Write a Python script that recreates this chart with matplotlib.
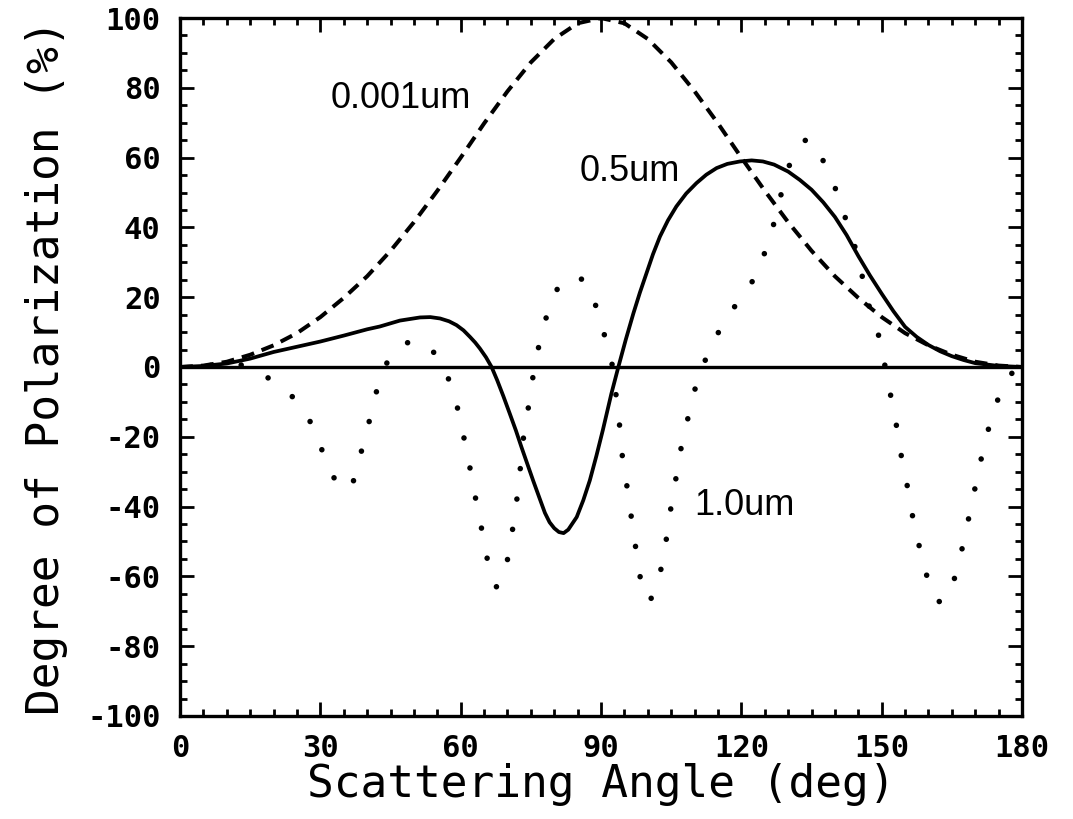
import matplotlib
matplotlib.use("Agg")
import matplotlib.pyplot as plt
from matplotlib.ticker import MultipleLocator

plt.rcParams['axes.unicode_minus'] = False

# 0.001um curve (dashed)
ang_small = [0, 5, 10, 15, 20, 25, 30, 35, 40, 45, 50, 55, 60, 65, 70, 75, 80, 85, 90,
             95, 100, 105, 110, 115, 120, 125, 130, 135, 140, 145, 150, 155, 160, 165, 170, 175, 180]
pol_small = [0, 0.4, 1.5, 3.5, 6.2, 9.7, 14.3, 19.8, 26, 33.3, 41.5, 50.5, 60, 69.8, 79, 87.3, 94, 98.5, 100,
             98.5, 94, 87.3, 79, 69.8, 60, 50.5, 41.5, 33.3, 26, 19.8, 14.3, 9.7, 6.2, 3.5, 1.5, 0.4, 0]

# 0.5um curve (solid)
ang_mid = [0, 5, 10, 15, 20, 25, 30, 35, 40, 42.7, 47, 51.3, 53.5, 55.6, 57.5, 59.1, 60.6, 62, 63.1,
           64.1, 65.4, 66.6, 67.8, 69.1, 70.5, 71.8, 73, 74.3, 75.5, 76.8, 78, 79, 80, 81, 82, 83,
           84.8, 86.2, 87.6, 89, 90.4, 92.2, 93.7, 95.3, 96.9, 98.3, 99.7, 101.1, 102.6, 104.3, 106.1,
           108.2, 110.4, 112.5, 114.7, 117, 119.7, 122.2, 124.6, 127, 130, 132.5, 135, 137.5,
           140, 142.5, 145, 147.5, 150, 152.5, 155, 157.5, 160, 162.5, 165, 167.5, 170, 175, 180]
pol_mid = [0, 0.3, 1.0, 2.4, 4.3, 5.8, 7.3, 9.0, 10.8, 11.6, 13.3, 14.2, 14.3, 13.9, 13.1, 12, 10.5, 8.6, 7.0,
           5.3, 2.8, 0, -3.8, -8.3, -13.4, -18.2, -23, -28, -32.6, -37.4, -41.8, -44.5, -46.2, -47.3, -47.6, -46.6,
           -43, -38.2, -32.5, -25.5, -18, -7.7, 0, 7.9, 15.3, 21.3, 26.8, 32.3, 37.4, 42, 46,
           49.7, 52.7, 55.1, 57, 58.2, 58.9, 59.2, 58.9, 58, 56, 53.6, 50.8, 47.2,
           43, 37.8, 31.8, 26.2, 21, 16, 11.5, 8.6, 6.3, 4.5, 3.1, 2.0, 1.1, 0.3, 0]

# 1.0um curve (dotted)
ang_big = [0, 5, 10, 14, 17, 20, 24, 28, 31, 33, 35, 37, 38.2, 40, 42, 43.5, 45, 47, 50, 52.6,
           55, 57, 58.8, 60.2, 61.6, 62.7, 64, 65.2, 66.4, 67.6, 68.7, 70.3, 71.2, 72.1, 72.8,
           73.5, 74.6, 75.6, 76.8, 78.5, 81, 83.5, 86.3, 89, 90.8, 92.5, 93.2, 94, 94.6, 95.6,
           96.5, 97.4, 98.4, 99.4, 100.4, 101.5, 102.6, 103.8, 104.7, 105.8, 106.8, 108.3, 109.7,
           111.8, 114.5, 118, 121.8, 124.5, 126.6, 128.2, 129.8, 132.6, 134.5, 137, 139.7, 141.9,
           144, 145.6, 147, 149.1, 150.5, 151.7, 153, 154, 155.3, 156.4, 157.8, 159.3, 161.3,
           162.8, 164.7, 166.5, 167.9, 169.2, 170.6, 171.9, 173.7, 175.9, 178, 180]
pol_big = [0, 0.3, 0.8, 0.5, -1, -4.5, -8.5, -16, -26, -32, -35.5, -33, -27, -18, -7, -1, 3.5, 6.3, 7.5, 6.7,
           3, -2, -8.6, -17.2, -26, -34.5, -43, -51.7, -60, -63, -62, -53.6, -45.5, -37, -28.3,
           -19.2, -10.5, -1.4, 6.7, 15.3, 23.5, 26, 25, 17.2, 8.8, 0, -8, -17.2, -26.3, -34.7,
           -43.3, -51.7, -60.5, -65.5, -67.2, -64, -59.4, -50.8, -42.2, -33.7, -25.1, -16.3, -7.9,
           0.5, 8.6, 16.3, 23, 30.8, 39.3, 47.9, 56.5, 64.2, 65.5, 60.5, 52.7, 44,
           35.9, 27.5, 18.7, 10.5, 1.7, -6.7, -15.5, -24.2, -32.8, -41.5, -50.1, -58.4, -66.6,
           -67.5, -64.7, -56, -47.9, -39.3, -30.7, -22.2, -13.6, -5.3, -1.5, 0]

fig = plt.figure(figsize=(10.73, 8.19), dpi=100)
ax = fig.add_axes([0.1678, 0.1258, 0.7847, 0.8522])

ax.axhline(0, color='black', lw=2.4)
ax.plot(ang_small, pol_small, color='black', lw=2.9, dashes=(3.2, 2.0))
ax.plot(ang_mid, pol_mid, color='black', lw=2.7, solid_joinstyle='round')
ax.plot(ang_big, pol_big, color='black', lw=4.0, linestyle=(0, (0.01, 5.5)),
        dash_capstyle='round')

ax.text(32.1, 74.1, '0.001um', fontsize=26, family='Liberation Sans', va='baseline')
ax.text(85.5, 53.4, '0.5um', fontsize=26, family='Liberation Sans', va='baseline')
ax.text(110, -42.5, '1.0um', fontsize=26, family='Liberation Sans', va='baseline')

ax.set_xlim(0, 180)
ax.set_ylim(-100, 100)
ax.xaxis.set_major_locator(MultipleLocator(30))
ax.xaxis.set_minor_locator(MultipleLocator(5))
ax.yaxis.set_major_locator(MultipleLocator(20))
ax.yaxis.set_minor_locator(MultipleLocator(5))
ax.tick_params(which='both', direction='in', top=True, right=True, width=2)
ax.tick_params(which='major', length=10)
ax.tick_params(which='minor', length=5)
ax.tick_params(axis='x', pad=13)
ax.tick_params(axis='y', pad=14)
for lab in ax.get_xticklabels() + ax.get_yticklabels():
    lab.set_family('DejaVu Sans Mono')
    lab.set_fontweight('bold')
    lab.set_fontsize(22)
for s in ax.spines.values():
    s.set_linewidth(2.4)

ax.set_xlabel('Scattering Angle (deg)', family='DejaVu Sans Mono', fontsize=32, labelpad=0)
ax.set_ylabel('Degree of Polarization (%)', family='DejaVu Sans Mono', fontsize=32, labelpad=14)

fig.savefig('out.png', dpi=100)
